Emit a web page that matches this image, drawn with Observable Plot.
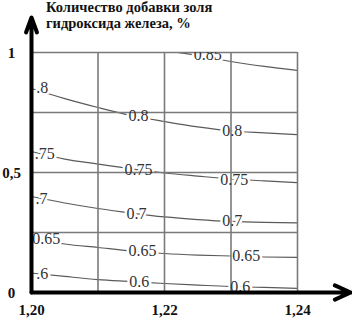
<!DOCTYPE html>
<html><head><meta charset="utf-8">
<script src="https://cdn.jsdelivr.net/npm/d3@7"></script>
<script src="https://cdn.jsdelivr.net/npm/@observablehq/plot@0.6"></script>
<style>
html,body{margin:0;padding:0;background:#fff;}
#wrap{position:relative;width:352px;height:319px;overflow:hidden;background:#fff;}
</style></head><body>
<div id="wrap"></div>
<script>
// Scales / ticks
const xDomain = [1.20, 1.24];
const yDomain = [0, 1];
const xGrid = [1.20, 1.21, 1.22, 1.23, 1.24];
const yGrid = [0, 0.25, 0.5, 0.75, 1];
const xTicks = [1.20, 1.22, 1.24];
const xTickLabels = ["1,20", "1,22", "1,24"];
const yTicks = [0, 0.5, 1];
const yTickLabels = ["0", "0,5", "1"];
const xAxisEnd = 1.248;
const yAxisEnd = 1.146;
const titleLines = ["Количество добавки золя", "гидроксида железа, %"];

// Contour lines (iso-levels), sampled along x
const sampleX = [1.200, 1.205, 1.210, 1.215, 1.220, 1.225, 1.230, 1.235, 1.240];
const c060 = [0.081, 0.067, 0.054, 0.046, 0.0375, 0.031, 0.025, 0.021, 0.017];
const c065 = [0.229, 0.202, 0.1875, 0.173, 0.1625, 0.156, 0.152, 0.148, 0.146];
const c070 = [0.400, 0.373, 0.350, 0.331, 0.315, 0.304, 0.296, 0.292, 0.290];
const c075 = [0.5875, 0.556, 0.535, 0.515, 0.498, 0.485, 0.473, 0.465, 0.458];
const c080 = [0.850, 0.808, 0.771, 0.7375, 0.7125, 0.690, 0.673, 0.665, 0.658];
const c085 = [null, null, null, null, 1.008, 0.9875, 0.9625, 0.942, 0.925];

// Contour labels
const labelText = ["0.85", ".8", "0.8", "0.8", ".75", "0.75", "0.75", ".7", "0.7", "0.7", "0.65", "0.65", "0.65", ".6", "0.6", "0.6"];
const labelX = [1.2265, 1.2016, 1.2161, 1.2302, 1.2020, 1.2161, 1.2305, 1.2015, 1.2158, 1.2302, 1.2022, 1.2167, 1.2323, 1.2016, 1.2162, 1.2314];
const labelY = [0.992, 0.854, 0.7375, 0.675, 0.579, 0.5125, 0.471, 0.392, 0.329, 0.300, 0.225, 0.175, 0.154, 0.079, 0.046, 0.025];

const series = [["0.6", c060], ["0.65", c065], ["0.7", c070], ["0.75", c075], ["0.8", c080], ["0.85", c085]];
const lineRows = [];
for (const [lvl, ys] of series) ys.forEach((y, i) => { if (y != null) lineRows.push({lvl, x: sampleX[i], y}); });
const labels = labelText.map((t, i) => ({t, x: labelX[i], y: labelY[i]}));

const serif = "'Liberation Serif'";
const labelStyle = {x: "x", y: "y", text: "t", fontSize: 16, fontFamily: serif, clip: true};

const chart = Plot.plot({
  width: 352, height: 319,
  marginLeft: 31, marginRight: 55, marginTop: 52, marginBottom: 27,
  x: {domain: xDomain},
  y: {domain: yDomain},
  style: {background: "white", fontFamily: serif, overflow: "visible"},
  marks: [
    Plot.line(lineRows, {x: "x", y: "y", z: "lvl", curve: "monotone-x", stroke: "#5a5a5a", strokeWidth: 1.2, clip: true}),
    Plot.text(labels, {...labelStyle, fill: "white", stroke: "white", strokeWidth: 5}),
    Plot.ruleX(xGrid, {y1: yDomain[0], y2: yDomain[1], stroke: "#7a7a7a", strokeWidth: 1.6}),
    Plot.ruleY(yGrid, {x1: xDomain[0], x2: xDomain[1], stroke: "#7a7a7a", strokeWidth: 1.6}),
    Plot.text(labels, {...labelStyle, fill: "#333"}),
    Plot.axisX(xTicks, {tickSize: 0, tickPadding: 12, label: null, tickFormat: d => xTickLabels[xTicks.indexOf(d)], fontSize: 15, fontWeight: "bold", fontFamily: serif, fill: "#111"}),
    Plot.axisY(yTicks, {tickSize: 0, tickPadding: 20, label: null, textAnchor: "middle", dy: 1, tickFormat: d => yTickLabels[yTicks.indexOf(d)], fontSize: 15, fontWeight: "bold", fontFamily: serif, fill: "#111"}),
    Plot.arrow([{x1: xDomain[0], y1: 0, x2: xAxisEnd, y2: 0}], {x1: "x1", y1: "y1", x2: "x2", y2: "y2", stroke: "black", strokeWidth: 4, headLength: 6.5, headAngle: 48, strokeLinejoin: "miter"}),
    Plot.arrow([{x1: xDomain[0], y1: 0, x2: xDomain[0], y2: yAxisEnd}], {x1: "x1", y1: "y1", x2: "x2", y2: "y2", stroke: "black", strokeWidth: 4, headLength: 6, headAngle: 40, strokeLinejoin: "miter"})
  ]
});
const wrap = document.getElementById("wrap");
wrap.appendChild(chart);
const title = document.createElement("div");
title.style.cssText = "position:absolute;left:46px;top:-1px;font-weight:bold;font-size:14.5px;line-height:16px;font-family:'Liberation Serif';color:#111;white-space:nowrap;";
title.innerHTML = titleLines.join("<br>");
wrap.appendChild(title);
</script>
</body></html>
